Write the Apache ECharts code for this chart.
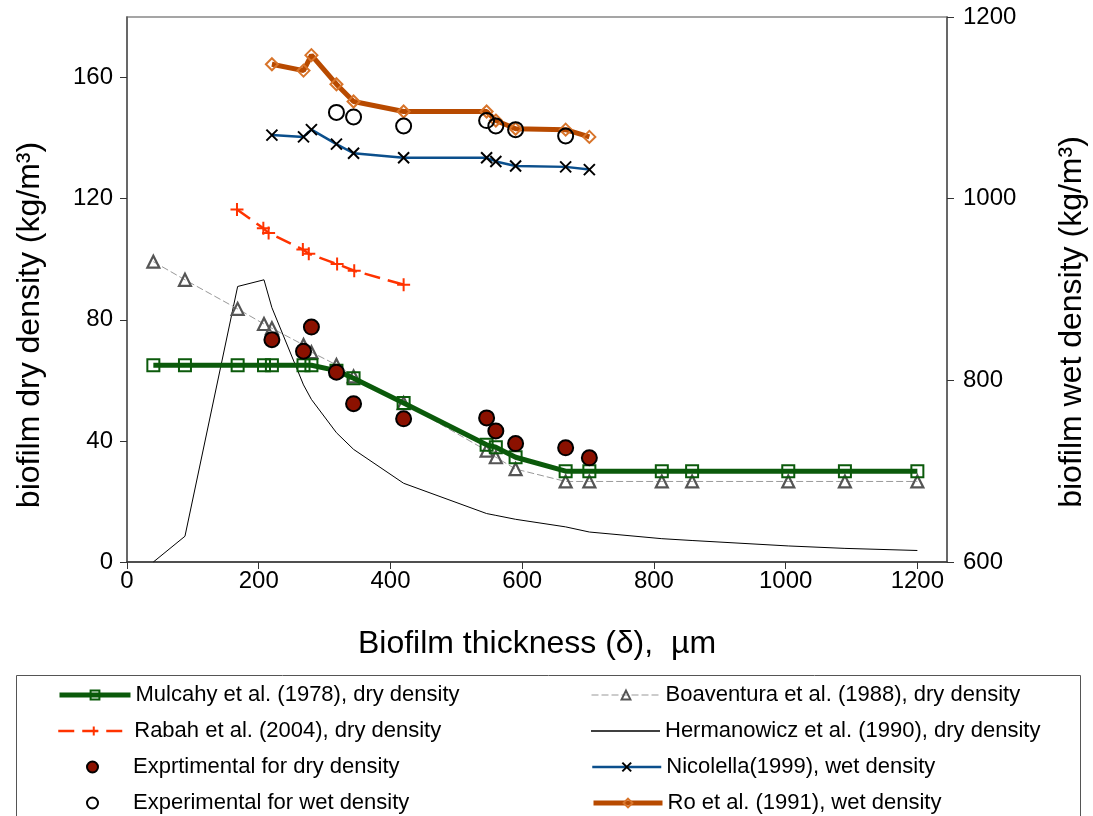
<!DOCTYPE html>
<html>
<head>
<meta charset="utf-8">
<script src="https://cdn.jsdelivr.net/npm/echarts@6/dist/echarts.min.js"></script>
<style>html,body{margin:0;padding:0;background:#fff;}#c{width:1093px;height:816px;}</style>
</head>
<body>
<div id="c"></div>
<script>
// ---- data ----
const thicknessX = [40, 88, 168, 208, 220, 268, 280, 318, 344, 420, 546, 560, 590, 666, 702, 812, 858, 1004, 1090, 1200];
const mulcahyDry = [65, 65, 65, 65, 65, 65, 65, 63.2, 60.7, 52.5, 38.7, 37.9, 34.6, 30, 30, 30, 30, 30, 30, 30];
const boaventuraDry = [99.2, 93.2, 83.6, 78.6, 77.2, 71.7, 69.3, 65.1, 61.3, 52.5, 36.8, 34.6, 30.7, 26.6, 26.6, 26.6, 26.6, 26.6, 26.6, 26.6];
const hermanowiczDry = [0, 8.5, 91, 93.2, 84, 58.5, 53.7, 42.7, 37.2, 26, 16, 15.4, 14.1, 11.6, 9.9, 7.7, 7.1, 5.3, 4.5, 3.8];
const rabahX = [167, 207, 215, 267, 276, 319, 345, 420];
const rabahDry = [116.4, 110.2, 108.7, 103.2, 101.8, 98.4, 96.2, 91.6];
const wetX = [220, 268, 280, 318, 344, 420, 546, 560, 590, 666, 702];
const nicolellaWet = [1070, 1068, 1076, 1060, 1050, 1045, 1045, 1041, 1036, 1035, 1032];
const roWet = [1148, 1141, 1158, 1126, 1107, 1096, 1096, 1086, 1077, 1076, 1068];
const expDryX = [220, 268, 280, 318, 344, 420, 546, 560, 590, 666, 702];
const expDry = [73.4, 69.6, 77.6, 62.7, 52.3, 47.3, 47.6, 43.3, 39.1, 37.7, 34.4];
const expWetX = [318, 344, 420, 546, 560, 590, 666];
const expWet = [1095, 1090, 1080, 1086, 1080, 1076, 1069];
const xTicks = [0, 200, 400, 600, 800, 1000, 1200];
const dryTicks = [0, 40, 80, 120, 160];
const wetTicks = [600, 800, 1000, 1200];
const names = {
  mul: 'Mulcahy et al. (1978), dry density',
  rab: 'Rabah et al. (2004), dry density',
  expD: 'Exprtimental for dry density',
  expW: 'Experimental for wet density',
  boa: 'Boaventura et al. (1988), dry density',
  her: 'Hermanowicz et al. (1990), dry density',
  nic: 'Nicolella(1999), wet density',
  ro: 'Ro et al. (1991), wet density'
};

const zip = (xs, ys) => xs.map((x, i) => [x, ys[i]]);
const FONT = '"Liberation Sans", Arial, sans-serif';
const chart = echarts.init(document.getElementById('c'), null, {renderer: 'canvas'});

const rowTops = [684, 720, 756, 792];
function leg(name, left, top, extra) {
  return Object.assign({
    orient: 'vertical', left: left, top: top, padding: 0, itemGap: 0,
    itemWidth: 71, itemHeight: 11,
    textStyle: {fontSize: 22, color: '#000', fontFamily: FONT},
    data: [name]
  }, extra || {});
}

const option = {
  animation: false,
  backgroundColor: '#fff',
  textStyle: {fontFamily: FONT, color: '#000'},
  grid: {left: 127, right: 146, top: 17, bottom: 254, show: true, borderColor: '#888', borderWidth: 1.5, containLabel: false},
  xAxis: {
    type: 'value', min: 0, max: 1245, interval: 200,
    axisLine: {show: true, lineStyle: {color: '#333', width: 1.5}},
    axisTick: {show: true, inside: false, length: 7, customValues: xTicks, lineStyle: {color: '#333', width: 1}},
    axisLabel: {fontSize: 24, color: '#000', fontFamily: FONT, margin: 7, customValues: xTicks,
      formatter: v => (xTicks.indexOf(v) >= 0 ? String(v) : '')},
    splitLine: {show: false},
    name: 'Biofilm thickness (\u03b4),  \u00b5m', nameLocation: 'middle', nameGap: 66,
    nameTextStyle: {fontSize: 32, color: '#000', fontFamily: FONT}
  },
  yAxis: [{
    type: 'value', min: 0, max: 180, interval: 40, position: 'left',
    axisLine: {show: true, lineStyle: {color: '#555', width: 1.5}},
    axisTick: {show: true, inside: false, length: 7, customValues: dryTicks, lineStyle: {color: '#333'}},
    axisLabel: {fontSize: 24, color: '#000', fontFamily: FONT, margin: 14, customValues: dryTicks,
      formatter: v => (dryTicks.indexOf(v) >= 0 ? String(v) : '')},
    splitLine: {show: false}
  }, {
    type: 'value', min: 600, max: 1200, interval: 200, position: 'right',
    axisLine: {show: true, lineStyle: {color: '#555', width: 1.5}},
    axisTick: {show: true, inside: false, length: 7, lineStyle: {color: '#333'}},
    axisLabel: {fontSize: 24, color: '#000', fontFamily: FONT, margin: 16, formatter: v => String(v)},
    splitLine: {show: false}
  }],
  legend: [
    leg({name: names.mul, lineStyle: {width: 5}}, 57, rowTops[0]),
    leg({name: names.rab, lineStyle: {width: 2.5}}, 57, rowTops[1]),
    leg(names.expD, 86, rowTops[2]),
    leg(names.expW, 86, rowTops[3]),
    leg({name: names.boa, lineStyle: {width: 1}}, 591, rowTops[0], {itemWidth: 69}),
    leg({name: names.her, icon: 'rect', itemStyle: {color: '#000'}}, 591, rowTops[1], {itemWidth: 69, itemHeight: 1.3}),
    leg({name: names.nic, lineStyle: {width: 2.5}}, 591, rowTops[2], {itemWidth: 69}),
    leg({name: names.ro, lineStyle: {width: 5}}, 591, rowTops[3], {itemWidth: 69})
  ],
  graphic: [{
    type: 'rect', left: 14, top: 673, z: -1,
    shape: {width: 1064, height: 160},
    style: {fill: 'none', stroke: '#555', lineWidth: 1}
  }, {
    type: 'text', x: 30, y: 325, rotation: Math.PI / 2, z: 10,
    style: {text: 'biofilm dry density (kg/m\u00b3)', font: '32px ' + FONT, fill: '#000', textAlign: 'center', textVerticalAlign: 'middle'}
  }, {
    type: 'text', x: 1072, y: 322, rotation: Math.PI / 2, z: 10,
    style: {text: 'biofilm wet density (kg/m\u00b3)', font: '32px ' + FONT, fill: '#000', textAlign: 'center', textVerticalAlign: 'middle'}
  }],
  series: [{
    name: names.her, type: 'line', yAxisIndex: 0, data: zip(thicknessX, hermanowiczDry),
    showSymbol: false, symbol: 'none', lineStyle: {color: '#000', width: 1}, itemStyle: {color: '#000'}, z: 2
  }, {
    name: names.boa, type: 'line', yAxisIndex: 0, data: zip(thicknessX, boaventuraDry),
    symbol: 'triangle', symbolSize: 12,
    lineStyle: {color: '#999', width: 1, type: [7, 3]},
    itemStyle: {color: 'rgba(255,255,255,0)', borderColor: '#555', borderWidth: 2.2}, z: 3
  }, {
    name: names.mul, type: 'line', yAxisIndex: 0, data: zip(thicknessX, mulcahyDry),
    symbol: 'rect', symbolSize: 12,
    lineStyle: {color: '#0B5A0B', width: 5},
    itemStyle: {color: 'rgba(255,255,255,0)', borderColor: '#0B5A0B', borderWidth: 2}, z: 4
  }, {
    name: names.rab, type: 'line', yAxisIndex: 0, data: zip(rabahX, rabahDry),
    symbol: 'path://M5,0L5,10M0,5L10,5', symbolSize: 13,
    lineStyle: {color: '#FF3300', width: 2.5, type: [16, 8]},
    itemStyle: {color: '#FF3300', borderColor: '#FF3300', borderWidth: 2}, z: 4
  }, {
    name: names.nic, type: 'line', yAxisIndex: 1, data: zip(wetX, nicolellaWet),
    symbol: 'path://M0,0L10,10M10,0L0,10', symbolSize: 11,
    lineStyle: {color: '#0B4F8C', width: 2.5},
    itemStyle: {color: '#000', borderColor: '#000', borderWidth: 2}, z: 5
  }, {
    name: names.ro, type: 'line', yAxisIndex: 1, data: zip(wetX, roWet),
    symbol: 'diamond', symbolSize: 12,
    lineStyle: {color: '#B84A00', width: 5},
    itemStyle: {color: 'rgba(255,255,255,0)', borderColor: '#D8742A', borderWidth: 2}, z: 5
  }, {
    name: names.expD, type: 'scatter', yAxisIndex: 0, data: zip(expDryX, expDry),
    symbol: 'circle', symbolSize: 15,
    itemStyle: {color: '#8B1100', borderColor: '#000', borderWidth: 2, opacity: 1}, z: 6
  }, {
    name: names.expW, type: 'scatter', yAxisIndex: 1, data: zip(expWetX, expWet),
    symbol: 'circle', symbolSize: 15,
    itemStyle: {color: 'rgba(255,255,255,0)', borderColor: '#000', borderWidth: 2, opacity: 1}, z: 6
  }]
};
chart.setOption(option);
</script>
</body>
</html>
